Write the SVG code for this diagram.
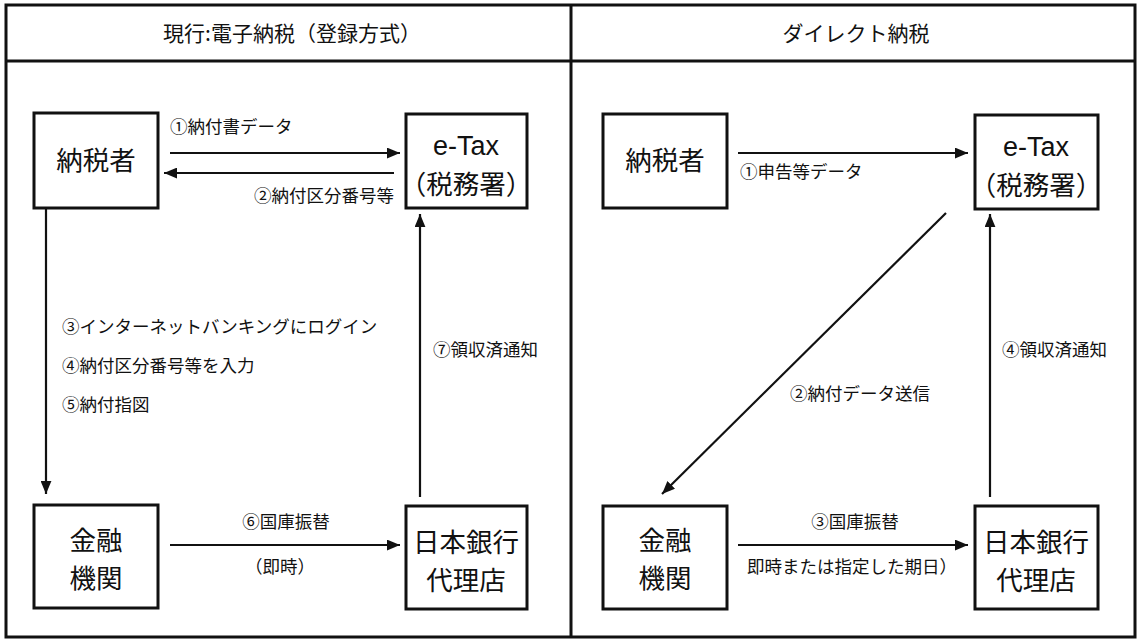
<svg xmlns="http://www.w3.org/2000/svg" width="1139" height="641" viewBox="0 0 1139 641">
<style>
.frame{fill:none;stroke:#111;stroke-width:3}
.box{fill:#fff;stroke:#111;stroke-width:3}
.ln{fill:none;stroke:#111;stroke-width:2.2}
text{font-family:"Noto Sans CJK JP","Noto Sans",sans-serif;fill:#111}
.hd{font-size:21px;text-anchor:middle}
.nd{font-size:26.5px;text-anchor:middle}
.en{font-family:"Liberation Sans",Arial,sans-serif;font-size:27px;text-anchor:middle}
.lb{font-size:17.5px}
.c{text-anchor:middle}
.r{text-anchor:end}
</style>
<defs>
<marker id="a" viewBox="0 0 12 10" refX="12" refY="5" markerWidth="13" markerHeight="11" markerUnits="userSpaceOnUse" orient="auto">
<path d="M0,0 L12,5 L0,10 z" fill="#111"/>
</marker>
</defs>
<rect width="1139" height="641" fill="#fff"/>
<g id="frame">
<rect class="frame" x="6" y="5" width="1129" height="632"/>
<line class="frame" x1="6" y1="61" x2="1135" y2="61"/>
<line class="frame" x1="571" y1="5" x2="571" y2="637"/>
<text class="hd" x="292" y="41">現行:電子納税（登録方式）</text>
<text class="hd" x="856" y="41">ダイレクト納税</text>
</g>
<g id="connectors">
<line class="ln" x1="170" y1="153" x2="400" y2="153" marker-end="url(#a)"/>
<text class="lb" x="170" y="133">①納付書データ</text>
<line class="ln" x1="394" y1="173" x2="164" y2="173" marker-end="url(#a)"/>
<text class="lb r" x="394" y="202">②納付区分番号等</text>
<line class="ln" x1="46" y1="209" x2="46" y2="494" marker-end="url(#a)"/>
<text class="lb" x="62" y="333">③インターネットバンキングにログイン</text>
<text class="lb" x="62" y="372">④納付区分番号等を入力</text>
<text class="lb" x="62" y="411">⑤納付指図</text>
<line class="ln" x1="420" y1="497" x2="420" y2="214" marker-end="url(#a)"/>
<text class="lb" x="433" y="356">⑦領収済通知</text>
<line class="ln" x1="170" y1="545" x2="400" y2="545" marker-end="url(#a)"/>
<text class="lb c" x="286" y="528">⑥国庫振替</text>
<text class="lb c" x="280" y="573">（即時）</text>

<line class="ln" x1="738" y1="153" x2="968" y2="153" marker-end="url(#a)"/>
<text class="lb" x="740" y="178">①申告等データ</text>
<line class="ln" x1="946" y1="213" x2="662" y2="494" marker-end="url(#a)"/>
<text class="lb" x="790" y="400">②納付データ送信</text>
<line class="ln" x1="990" y1="497" x2="990" y2="214" marker-end="url(#a)"/>
<text class="lb" x="1002" y="356">④領収済通知</text>
<line class="ln" x1="738" y1="545" x2="968" y2="545" marker-end="url(#a)"/>
<text class="lb c" x="855" y="528">③国庫振替</text>
<text class="lb c" x="852" y="573">即時または指定した期日）</text>
</g>
<g id="n-taxpayer-l">
<rect class="box" x="34" y="113" width="124" height="95"/>
<text class="nd" x="96" y="170">納税者</text>
</g>
<g id="n-etax-l">
<rect class="box" x="406" y="114" width="121" height="94"/>
<text class="en" x="466" y="155">e-Tax</text>
<text class="nd" x="466" y="194">（税務署）</text>
</g>
<g id="n-bank-l">
<rect class="box" x="34" y="505" width="124" height="103"/>
<text class="nd" x="96" y="550">金融</text>
<text class="nd" x="96" y="588">機関</text>
</g>
<g id="n-boj-l">
<rect class="box" x="406" y="506" width="121" height="103"/>
<text class="nd" x="466" y="552">日本銀行</text>
<text class="nd" x="466" y="590">代理店</text>
</g>
<g id="n-taxpayer-r">
<rect class="box" x="603" y="114" width="124" height="94"/>
<text class="nd" x="665" y="170">納税者</text>
</g>
<g id="n-etax-r">
<rect class="box" x="975" y="115" width="123" height="94"/>
<text class="en" x="1036" y="156">e-Tax</text>
<text class="nd" x="1036" y="195">（税務署）</text>
</g>
<g id="n-bank-r">
<rect class="box" x="603" y="506" width="124" height="103"/>
<text class="nd" x="665" y="550">金融</text>
<text class="nd" x="665" y="588">機関</text>
</g>
<g id="n-boj-r">
<rect class="box" x="975" y="506" width="123" height="103"/>
<text class="nd" x="1036" y="552">日本銀行</text>
<text class="nd" x="1036" y="590">代理店</text>
</g>
</svg>
